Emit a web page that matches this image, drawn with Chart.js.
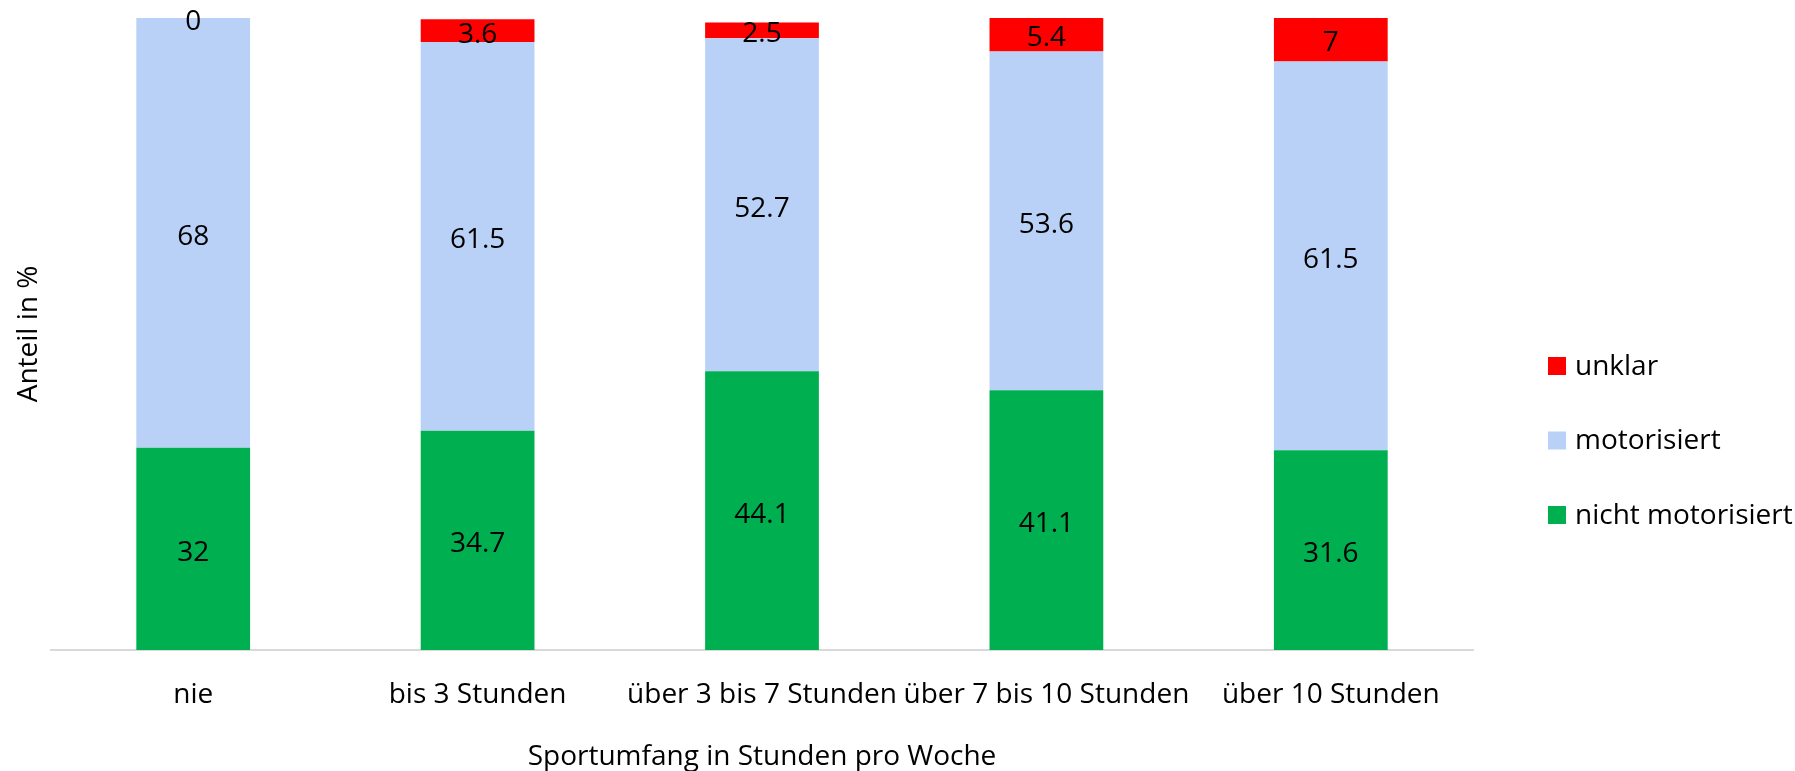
<!DOCTYPE html>
<html>
<head>
<meta charset="utf-8">
<title>Sportumfang und Fortbewegung</title>
<script src="https://cdn.jsdelivr.net/npm/chart.js@4.4.1/dist/chart.umd.min.js"></script>
<style>
  html, body { margin: 0; padding: 0; background: #fff; }
  #wrap { width: 1795px; height: 771px; }
</style>
</head>
<body>
<div id="wrap"><canvas id="sportChart" width="1795" height="771"></canvas></div>
<script>
// categories on the x axis
var categories = ['nie', 'bis 3 Stunden', 'über 3 bis 7 Stunden', 'über 7 bis 10 Stunden', 'über 10 Stunden'];

// shares in percent per category
var nichtMotorisiert = [32, 34.7, 44.1, 41.1, 31.6];
var motorisiert      = [68, 61.5, 52.7, 53.6, 61.5];
var unklar           = [0, 3.6, 2.5, 5.4, 7];

var FONT = '"Open Sans", "Noto Sans", sans-serif';

// writes the value in the middle of every segment
var segmentLabels = {
  id: 'segmentLabels',
  afterDatasetsDraw: function (chart) {
    var ctx = chart.ctx;
    ctx.save();
    ctx.font = '28px ' + FONT;
    ctx.fillStyle = '#000';
    ctx.textAlign = 'center';
    ctx.textBaseline = 'middle';
    chart.data.datasets.forEach(function (ds, i) {
      chart.getDatasetMeta(i).data.forEach(function (bar, j) {
        var c = bar.getCenterPoint();
        ctx.fillText(String(ds.data[j]), c.x, c.y + 4);
      });
    });
    ctx.restore();
  }
};

// legend on the right, top entry = top segment
var sideLegend = {
  id: 'sideLegend',
  afterDraw: function (chart) {
    var ctx = chart.ctx;
    var sets = chart.data.datasets.slice().reverse();
    var x = chart.chartArea.right + 75;
    var y0 = 366, step = 74.5, box = 18;
    ctx.save();
    ctx.font = '28px ' + FONT;
    ctx.textBaseline = 'middle';
    ctx.textAlign = 'left';
    sets.forEach(function (ds, k) {
      var y = y0 + k * step;
      ctx.fillStyle = ds.backgroundColor;
      ctx.fillRect(x, y - box / 2, box, box);
      ctx.fillStyle = '#000';
      ctx.fillText(ds.label, x + 27, y + 1);
    });
    ctx.restore();
  }
};

function draw() {
  var ctx = document.getElementById('sportChart').getContext('2d');
  new Chart(ctx, {
    type: 'bar',
    data: {
      labels: categories,
      datasets: [
        { label: 'nicht motorisiert', data: nichtMotorisiert, backgroundColor: '#00B050' },
        { label: 'motorisiert', data: motorisiert, backgroundColor: '#B9D1F7' },
        { label: 'unklar', data: unklar, backgroundColor: '#FF0000' }
      ]
    },
    options: {
      responsive: false,
      animation: false,
      barPercentage: 0.4,
      categoryPercentage: 1,
      layout: { padding: { top: 18, right: 322, left: 0, bottom: 0 } },
      plugins: {
        legend: { display: false },
        tooltip: { enabled: false }
      },
      scales: {
        x: {
          stacked: true,
          grid: { display: true, drawOnChartArea: false, drawTicks: false },
          border: { display: true, color: '#D9D9D9', width: 2 },
          ticks: {
            color: '#000',
            font: { family: FONT, size: 28, lineHeight: 1.2 },
            padding: 28,
            maxRotation: 0,
            minRotation: 0,
            autoSkip: false
          },
          title: {
            display: true,
            text: 'Sportumfang in Stunden pro Woche',
            color: '#000',
            font: { family: FONT, size: 28, lineHeight: 1 },
            padding: { top: 0, bottom: 0 }
          },
          afterFit: function (scale) { scale.height = 121; }
        },
        y: {
          stacked: true,
          min: 0,
          max: 100,
          grid: { display: false },
          border: { display: false },
          ticks: { display: false },
          title: {
            display: true,
            text: 'Anteil in %',
            color: '#000',
            font: { family: FONT, size: 28, lineHeight: 1.2 },
            padding: { top: 12, bottom: 0 }
          },
          afterFit: function (scale) { scale.width = 51; }
        }
      }
    },
    plugins: [segmentLabels, sideLegend]
  });
}

if (document.fonts && document.fonts.load) {
  document.fonts.load('28px "Open Sans"').then(draw, draw);
} else {
  draw();
}
</script>
</body>
</html>
